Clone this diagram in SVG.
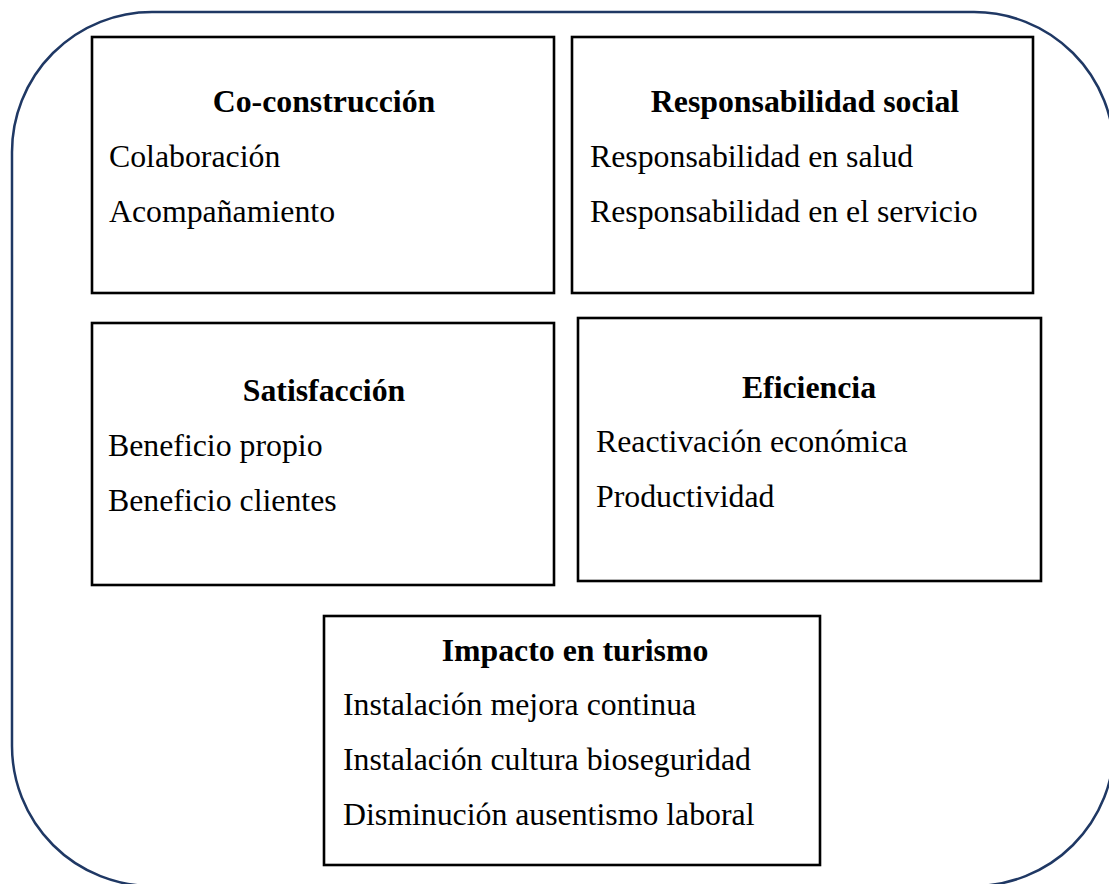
<svg xmlns="http://www.w3.org/2000/svg" width="1109" height="884" viewBox="0 0 1109 884">
<style>
.outer{fill:none;stroke:#1F3864;stroke-width:2.5}
.box{fill:#fff;stroke:#000;stroke-width:2.6}
text{font-family:"Liberation Serif","Times New Roman",serif;font-size:31.8px;fill:#000}
.h{font-weight:bold;text-anchor:middle}
</style>
<rect width="1109" height="884" fill="#fff"/>
<rect class="outer" x="12" y="12" width="1102" height="874" rx="140" ry="140"/>
<g id="co-construccion">
<rect class="box" x="92" y="37" width="462" height="256"/>
<text class="h" x="324" y="112">Co-construcción</text>
<text x="109" y="167">Colaboración</text>
<text x="109" y="222">Acompañamiento</text>
</g>
<g id="responsabilidad-social">
<rect class="box" x="572" y="37" width="461" height="256"/>
<text class="h" x="805" y="112">Responsabilidad social</text>
<text x="590" y="167">Responsabilidad en salud</text>
<text x="590" y="222">Responsabilidad en el servicio</text>
</g>
<g id="satisfaccion">
<rect class="box" x="92" y="323" width="462" height="262"/>
<text class="h" x="324" y="401">Satisfacción</text>
<text x="108" y="456">Beneficio propio</text>
<text x="108" y="511">Beneficio clientes</text>
</g>
<g id="eficiencia">
<rect class="box" x="578" y="318" width="463" height="263"/>
<text class="h" x="809" y="398">Eficiencia</text>
<text x="596" y="452">Reactivación económica</text>
<text x="596" y="507">Productividad</text>
</g>
<g id="impacto-turismo">
<rect class="box" x="324" y="616" width="496" height="249"/>
<text class="h" x="575" y="661">Impacto en turismo</text>
<text x="343" y="715">Instalación mejora continua</text>
<text x="343" y="770">Instalación cultura bioseguridad</text>
<text x="343" y="825">Disminución ausentismo laboral</text>
</g>
<g id="connectors"/>
</svg>
